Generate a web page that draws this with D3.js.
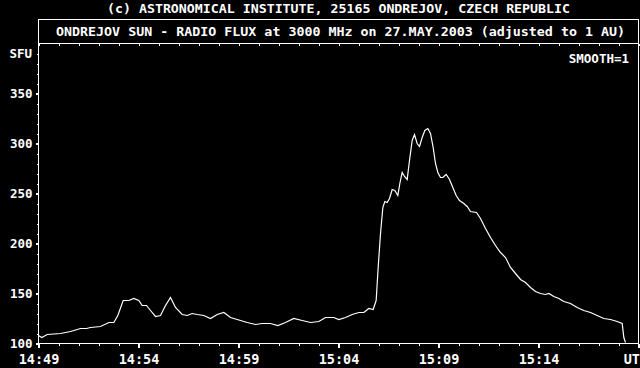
<!DOCTYPE html>
<html>
<head>
<meta charset="utf-8">
<script src="https://cdn.jsdelivr.net/npm/d3@7"></script>
<style>
    html, body { margin: 0; padding: 0; background: #000; }
    svg { display: block; }
    text { font-family: 'DejaVu Sans Mono', 'Liberation Mono', monospace; font-weight: bold; font-size: 12.5px; fill: #fff; }
</style>
</head>
<body>
<div id="chart"></div>
<script>
// seconds after 14:49:00 UT and flux in SFU
const seconds = [
    0, 10, 26, 66, 96, 126, 144, 156, 186, 211, 226, 238, 254, 271, 286, 301, 311, 324, 336, 351,
    366, 381, 396, 411, 431, 446, 461, 476, 496, 516, 536, 556, 576, 606, 626, 651, 671, 696, 718, 741,
    766, 791, 816, 841, 861, 886, 901, 921, 941, 961, 976, 991, 1004, 1011, 1013, 1019, 1026, 1033, 1039, 1046,
    1053, 1061, 1069, 1078, 1084, 1091, 1098, 1106, 1113, 1121, 1128, 1136, 1143, 1151, 1159, 1168, 1176, 1184, 1191, 1198,
    1206, 1213, 1223, 1233, 1243, 1253, 1263, 1276, 1286, 1296, 1314, 1326, 1341, 1356, 1371, 1386, 1401, 1416, 1431, 1446,
    1461, 1476, 1491, 1506, 1521, 1531, 1546, 1561, 1576, 1596, 1616, 1636, 1656, 1676, 1696, 1716, 1736, 1751, 1756, 1761
]
const flux = [
    108, 106, 109, 110, 112, 115, 115, 116, 117, 121, 121, 128, 143, 143, 145, 143, 138, 138, 133, 127,
    128, 138, 146, 136, 129, 128, 130, 129, 128, 125, 129, 131, 126, 123, 121, 119, 120, 120, 118, 121,
    125, 123, 121, 122, 126, 126, 124, 126, 129, 131, 131, 135, 134, 141, 143, 176, 210, 236, 242, 241,
    245, 254, 253, 248, 260, 271, 267, 264, 283, 303, 309, 300, 297, 306, 313, 315, 310, 296, 280, 271,
    266, 266, 269, 264, 256, 248, 243, 240, 237, 232, 231, 225, 215, 206, 198, 191, 186, 176, 170, 164,
    161, 156, 152, 150, 149, 150, 147, 145, 142, 140, 136, 133, 131, 128, 125, 124, 122, 120, 106, 101
]
const yTicks = [100, 150, 200, 250, 300, 350]
const xTickMinutes = [0, 5, 10, 15, 20, 25, 30]
const xTickLabels = ['14:49', '14:54', '14:59', '15:04', '15:09', '15:14', 'UT']

const caption = '(c) ASTRONOMICAL INSTITUTE, 25165 ONDREJOV, CZECH REPUBLIC'
const title = 'ONDREJOV SUN - RADIO FLUX at 3000 MHz on 27.MAY.2003 (adjusted to 1 AU)'

const width = 640
const height = 368
const start = new Date(Date.UTC(2003, 4, 27, 14, 49))
const end = new Date(Date.UTC(2003, 4, 27, 15, 19))
const times = seconds.map((s) => new Date(start.getTime() + s * 1000))

const svg = d3.select('#chart')
    .append('svg')
        .attr('width', width)
        .attr('height', height)

const xScale = d3.scaleUtc()
    .domain([start, end])
    .range([38.5, 638.5])

const yScale = d3.scaleLinear()
    .domain([100, 400])
    .range([343.5, 43.5])

// frame and title box
svg.append('rect')
    .attr('x', 38.5)
    .attr('y', 19.5)
    .attr('width', 600)
    .attr('height', 324)
    .attr('fill', 'none')
    .attr('stroke', '#fff')
    .attr('shape-rendering', 'crispEdges')

svg.append('line')
    .attr('x1', 38.5).attr('x2', 638.5)
    .attr('y1', yScale(400)).attr('y2', yScale(400))
    .attr('stroke', '#fff')
    .attr('shape-rendering', 'crispEdges')

svg.append('text')
    .attr('x', 107)
    .attr('y', 12.5)
    .attr('textLength', 463)
    .attr('lengthAdjust', 'spacingAndGlyphs')
    .text(caption)

svg.append('text')
    .attr('x', 56)
    .attr('y', 36)
    .attr('textLength', 569)
    .attr('lengthAdjust', 'spacingAndGlyphs')
    .text(title)

svg.append('text')
    .attr('x', 629)
    .attr('y', 62.5)
    .attr('text-anchor', 'end')
    .text('SMOOTH=1')

svg.append('text')
    .attr('x', 32)
    .attr('y', yScale(390))
    .attr('dy', '0.36em')
    .attr('text-anchor', 'end')
    .text('SFU')

const minutes = d3.utcMinute.range(start, d3.utcMinute.offset(end, 1))
const majors = xTickMinutes.map((m) => d3.utcMinute.offset(start, m))

// minor ticks
const xMinor = d3.axisBottom(xScale).tickValues(minutes).tickSize(2).tickFormat('')
const topMinor = d3.axisBottom(xScale).tickValues(minutes).tickSize(2).tickFormat('')
const yMinor = d3.axisLeft(yScale).tickValues(d3.range(100, 400, 10)).tickSize(2).tickFormat('')

svg.append('g').attr('class', 'x minor').attr('transform', 'translate(0,343.5)').call(xMinor)
svg.append('g').attr('class', 'top minor').attr('transform', 'translate(0,43.5)').call(topMinor)
svg.append('g').attr('class', 'y minor').attr('transform', 'translate(38.5,0)').call(yMinor)

// major ticks with labels
const xAxis = d3.axisBottom(xScale)
    .tickValues(majors)
    .tickSize(4)
    .tickPadding(7)
    .tickFormat((d, i) => xTickLabels[i])

const yAxis = d3.axisLeft(yScale)
    .tickValues(yTicks)
    .tickSize(3)
    .tickPadding(3)

svg.append('g').attr('class', 'x axis').attr('transform', 'translate(0,343.5)').call(xAxis)
svg.append('g').attr('class', 'y axis').attr('transform', 'translate(38.5,0)').call(yAxis)

svg.selectAll('.domain').remove()
svg.selectAll('.tick line')
    .attr('stroke', '#fff')
    .attr('shape-rendering', 'crispEdges')
svg.selectAll('.axis .tick line').attr('stroke-width', 2)
svg.selectAll('.tick text')
    .attr('fill', '#fff')
    .style('font-size', '12.5px')
    .style('font-family', null)
svg.selectAll('.x.axis .tick text')
    .style('font-size', '13.5px')
svg.selectAll('.x.axis .tick:last-of-type text').attr('text-anchor', 'end').attr('dx', 1)

// the flux curve
const valueline = d3.line()
    .x((d, i) => xScale(times[i]))
    .y((d) => yScale(d))

svg.append('path')
    .attr('class', 'line')
    .attr('d', valueline(flux))
    .attr('fill', 'none')
    .attr('stroke', '#fff')
    .attr('stroke-width', 1.2)
</script>
</body>
</html>
